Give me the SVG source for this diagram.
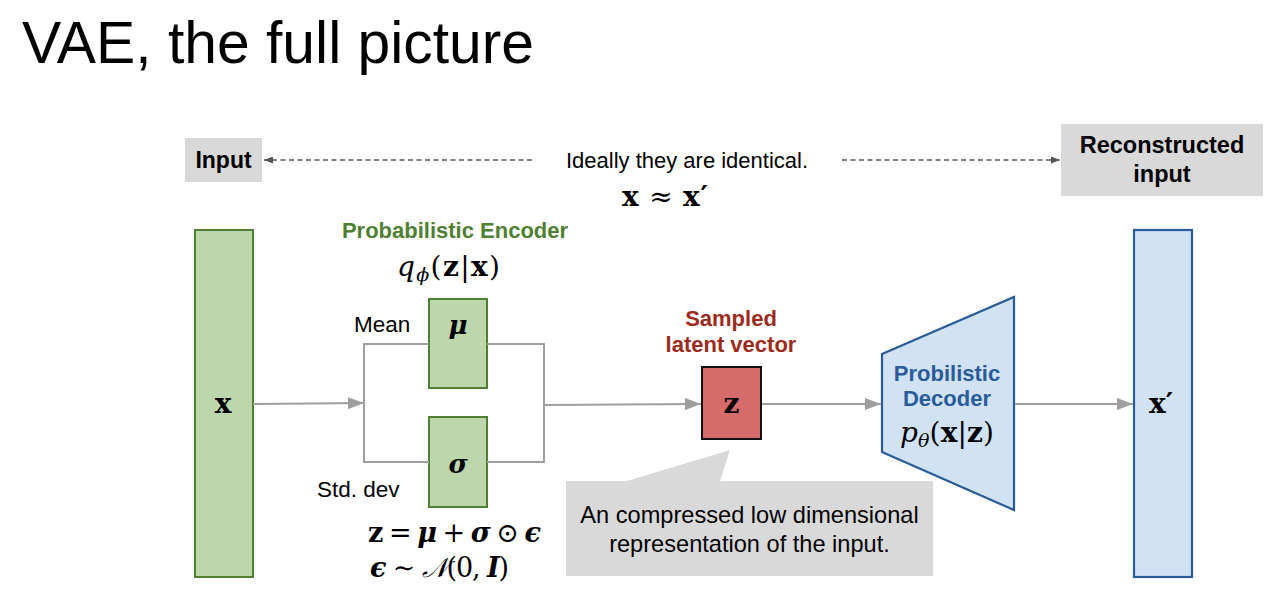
<svg xmlns="http://www.w3.org/2000/svg" width="1280" height="595" viewBox="0 0 1280 595">
<style>
.sans{font-family:"Liberation Sans",Arial,sans-serif}
.b{font-weight:bold}
.m{font-family:"DejaVu Serif","Liberation Serif",serif}
.mb{font-family:"DejaVu Serif","Liberation Serif",serif;font-weight:bold}
.mi{font-family:"DejaVu Serif","Liberation Serif",serif;font-style:italic}
.mbi{font-family:"DejaVu Serif","Liberation Serif",serif;font-style:italic;font-weight:bold}
.conn{stroke:#9e9e9e;stroke-width:2;fill:none}
.dash{stroke:#555;stroke-width:1.3;stroke-dasharray:5 3.5;fill:none}
.green{fill:#bcd7ac;stroke:#4f7f33;stroke-width:2}
.blue{fill:#d0e2f3;stroke:#2b5b99;stroke-width:2.2}
</style>
<defs>
<marker id="ah" viewBox="0 0 10 10" refX="10" refY="5" markerWidth="16" markerHeight="12" markerUnits="userSpaceOnUse" orient="auto" preserveAspectRatio="none">
<path d="M0,0 L10,5 L0,10 z" fill="#9e9e9e"/>
</marker>
<marker id="dh" viewBox="0 0 10 10" refX="10" refY="5" markerWidth="9" markerHeight="7" markerUnits="userSpaceOnUse" orient="auto" preserveAspectRatio="none">
<path d="M0,0 L10,5 L0,10 z" fill="#555"/>
</marker>
</defs>
<rect width="1280" height="595" fill="#fff"/>
<text x="22" y="63" class="sans" font-size="58.8" fill="#000">VAE, the full picture</text>

<g id="input-label">
<rect x="185" y="138" width="77" height="44" fill="#d9d9d9"/>
<text x="223.5" y="168" class="sans b" font-size="23" text-anchor="middle">Input</text>
</g>
<g id="recon-label">
<rect x="1061" y="124" width="202" height="72" fill="#d9d9d9"/>
<text x="1162" y="153" class="sans b" font-size="23.5" text-anchor="middle">Reconstructed</text>
<text x="1162" y="182" class="sans b" font-size="23.5" text-anchor="middle">input</text>
</g>
<g id="identical-note">
<text x="687" y="168" class="sans" font-size="22" text-anchor="middle">Ideally they are identical.</text>
<text x="622" y="206" font-size="28" textLength="86" lengthAdjust="spacing"><tspan class="mb">x</tspan><tspan class="m"> ≈ </tspan><tspan class="mb">x′</tspan></text>
</g>

<g id="x-input">
<rect x="195" y="230" width="58" height="347" class="green"/>
<text x="223" y="413" class="mb" font-size="28" text-anchor="middle">x</text>
</g>

<g id="encoder-label">
<text x="455" y="238" class="sans b" font-size="22" fill="#4f7f33" text-anchor="middle">Probabilistic Encoder</text>
<text x="397" y="276" font-size="28" textLength="103" lengthAdjust="spacing"><tspan class="mi">q</tspan><tspan class="mi" font-size="19" dy="5">ϕ</tspan><tspan class="m" dy="-5">(</tspan><tspan class="mb">z</tspan><tspan class="m">|</tspan><tspan class="mb">x</tspan><tspan class="m">)</tspan></text>
</g>

<g id="mu">
<rect x="429" y="299" width="58" height="89" class="green"/>
<text x="458" y="334" class="mbi" font-size="26" text-anchor="middle">μ</text>
<text x="354" y="332" class="sans" font-size="22.5">Mean</text>
</g>
<g id="sigma">
<rect x="429" y="417" width="58" height="90" class="green"/>
<text x="458" y="473" class="mbi" font-size="26" text-anchor="middle">σ</text>
<text x="317" y="497" class="sans" font-size="22.5">Std. dev</text>
</g>

<g id="reparam">
<text x="368" y="542" font-size="27" textLength="173" lengthAdjust="spacing"><tspan class="mb">z</tspan><tspan class="m"> = </tspan><tspan class="mbi">μ</tspan><tspan class="m"> + </tspan><tspan class="mbi">σ</tspan><tspan class="m"> ⊙ </tspan><tspan class="mbi">ϵ</tspan></text>
<text x="370" y="577" font-size="27" textLength="139" lengthAdjust="spacing"><tspan class="mbi">ϵ</tspan><tspan class="m"> ∼ </tspan><tspan class="mi">𝒩</tspan><tspan class="m">(0, </tspan><tspan class="mbi">I</tspan><tspan class="m">)</tspan></text>
</g>

<g id="z-latent">
<text x="731" y="326" class="sans b" font-size="22" fill="#9c2b1c" text-anchor="middle">Sampled</text>
<text x="731" y="352" class="sans b" font-size="22" fill="#9c2b1c" text-anchor="middle">latent vector</text>
<rect x="702" y="367" width="59" height="72" fill="#d56b6b" stroke="#111" stroke-width="2"/>
<text x="731.5" y="413" class="mb" font-size="28" text-anchor="middle">z</text>
</g>

<g id="callout">
<path d="M566,481 L627,481 L730,450 L720,481 L933,481 L933,576 L566,576 Z" fill="#d9d9d9"/>
<text x="749.5" y="523" class="sans" font-size="23.6" text-anchor="middle">An compressed low dimensional</text>
<text x="749.5" y="552" class="sans" font-size="23.6" text-anchor="middle">representation of the input.</text>
</g>

<g id="decoder">
<path d="M882,354 L1014,297 L1014,510 L882,452 Z" class="blue"/>
<text x="947" y="381" class="sans b" font-size="22" fill="#2b5b99" text-anchor="middle">Probilistic</text>
<text x="947" y="406" class="sans b" font-size="22" fill="#2b5b99" text-anchor="middle">Decoder</text>
<text x="900" y="442" font-size="28" textLength="94" lengthAdjust="spacing"><tspan class="mi">p</tspan><tspan class="mi" font-size="19" dy="5">θ</tspan><tspan class="m" dy="-5">(</tspan><tspan class="mb">x</tspan><tspan class="m">|</tspan><tspan class="mb">z</tspan><tspan class="m">)</tspan></text>
</g>

<g id="x-output">
<rect x="1134" y="230" width="58" height="347" class="blue"/>
<text x="1161" y="413" class="mb" font-size="28" text-anchor="middle">x′</text>
</g>

<g id="connectors">
<path d="M532,160 L264,160" class="dash" marker-end="url(#dh)"/>
<path d="M842,160 L1060,160" class="dash" marker-end="url(#dh)"/>
<path d="M253,404 L364,403" class="conn" marker-end="url(#ah)"/>
<path d="M429,344 L364,344 L364,462 L429,462" class="conn"/>
<path d="M487,344 L544,344 L544,462 L487,462" class="conn"/>
<path d="M544,405 L701,404" class="conn" marker-end="url(#ah)"/>
<path d="M762,404 L881,404" class="conn" marker-end="url(#ah)"/>
<path d="M1015,404 L1133,404" class="conn" marker-end="url(#ah)"/>
</g>
</svg>
